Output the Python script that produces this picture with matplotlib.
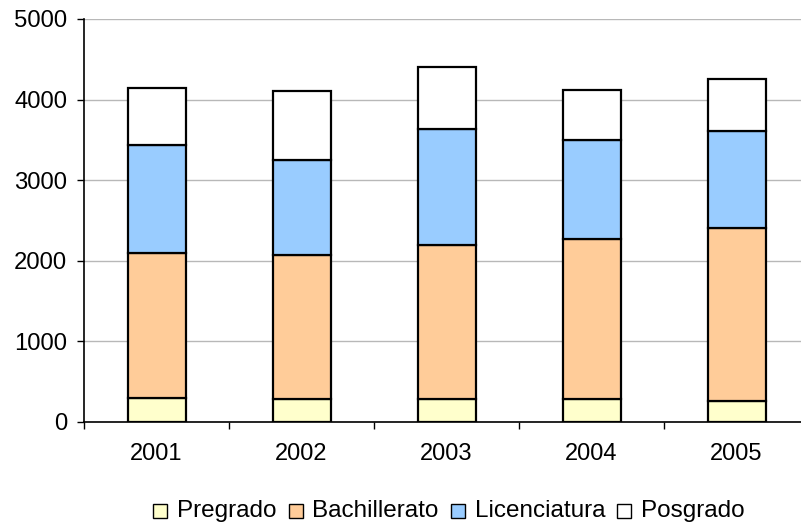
import matplotlib.pyplot as plt
import numpy as np
from matplotlib.patches import Rectangle

plt.rcParams["font.family"] = ["Liberation Sans", "DejaVu Sans"]

years = ["2001", "2002", "2003", "2004", "2005"]
pregrado = [300, 280, 280, 280, 255]
bachillerato = [1800, 1790, 1910, 1985, 2150]
licenciatura = [1340, 1180, 1450, 1235, 1210]
posgrado = [705, 860, 760, 615, 645]

series = [
    ("Pregrado", pregrado, "#ffffcc"),
    ("Bachillerato", bachillerato, "#ffcc99"),
    ("Licenciatura", licenciatura, "#99ccff"),
    ("Posgrado", posgrado, "#ffffff"),
]

W, H = 801, 526
fig = plt.figure(figsize=(W / 100, H / 100), dpi=100)
ax = fig.add_axes([84 / W, 104 / H, 725 / W, 403 / H])

x = np.arange(len(years))
bottom = np.zeros(len(years))
for name, vals, color in series:
    ax.bar(x, vals, 0.40, bottom=bottom, color=color, edgecolor="black",
           linewidth=1.6, zorder=3)
    bottom += np.array(vals)

ax.set_xlim(-0.5, len(years) - 0.5)
ax.set_ylim(0, 5000)
ax.set_yticks(range(0, 5001, 1000))
ax.grid(axis="y", color="#b8b8b8", linewidth=1.0, zorder=0)
ax.set_axisbelow(True)

ax.set_xticks(x)
ax.set_xticklabels(years)
ax.set_xticks(np.arange(-0.5, len(years), 1.0), minor=True)
ax.tick_params(axis="x", which="major", length=0, pad=15, labelsize=17)
ax.tick_params(axis="x", which="minor", length=5, direction="out", width=1)
ax.tick_params(axis="y", length=5, direction="out", width=1, labelsize=17.2, pad=7)

for s in ["top", "right"]:
    ax.spines[s].set_visible(False)
for s in ["left", "bottom"]:
    ax.spines[s].set_linewidth(1.2)

# legend drawn by hand so all labels share one baseline
renderer = fig.canvas.get_renderer()
xpos = 153
for name, _, color in series:
    fig.add_artist(Rectangle((xpos / W, 1 - 518 / H), 14 / W, 14 / H,
                             transform=fig.transFigure, facecolor=color,
                             edgecolor="black", linewidth=1.0))
    t = fig.text((xpos + 24) / W, 1 - 517 / H, name, fontsize=17.5, va="baseline")
    xpos += 24 + t.get_window_extent(renderer).width + 12

fig.savefig("out.png", dpi=100)
